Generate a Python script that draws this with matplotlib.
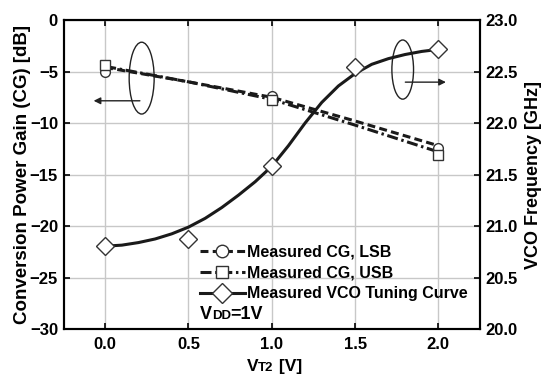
import matplotlib
matplotlib.use("Agg")
import matplotlib.pyplot as plt
from matplotlib.patches import Ellipse
from matplotlib.lines import Line2D
from matplotlib.offsetbox import TextArea, HPacker, AnchoredOffsetbox

plt.rcParams['font.family'] = ['Liberation Sans', 'DejaVu Sans']
plt.rcParams['font.weight'] = 'bold'

# measured points
vt2 = [0.0, 1.0, 2.0]
cg_lsb = [-5.0, -7.35, -12.4]
cg_usb = [-4.4, -7.75, -13.1]

# fitted CG lines
fit_x = [0.0, 0.5, 1.0, 1.5, 2.0]
fit_lsb = [-4.6, -6.0, -7.5, -9.8, -12.2]
fit_usb = [-4.5, -6.0, -7.7, -10.2, -12.8]

# VCO tuning
vco_x = [0.0, 0.5, 1.0, 1.5, 2.0]
vco_f = [20.805, 20.87, 21.58, 22.54, 22.716]
curve_x = [0.0, 0.1, 0.2, 0.3, 0.4, 0.5, 0.6, 0.7, 0.8, 0.9, 1.0,
           1.1, 1.2, 1.3, 1.4, 1.5, 1.6, 1.7, 1.8, 1.9, 2.0]
curve_f = [20.805, 20.815, 20.84, 20.875, 20.925, 20.99, 21.075, 21.18, 21.30, 21.43, 21.58,
           21.78, 22.00, 22.20, 22.36, 22.48, 22.57, 22.625, 22.665, 22.695, 22.715]

xticks = [0.0, 0.5, 1.0, 1.5, 2.0]
cg_ticks = [0, -5, -10, -15, -20, -25, -30]
f_ticks = [20.0, 20.5, 21.0, 21.5, 22.0, 22.5, 23.0]

DASH = (0, (2.6, 1.4))
DASHDOT = (0, (3.6, 1.2, 0.8, 1.2))

fig = plt.figure(figsize=(5.43, 3.74), dpi=100)
ax = fig.add_axes([0.117, 0.12, 0.767, 0.8265])
ax2 = ax.twinx()

ax.set_xlim(-0.25, 2.25)
ax.set_ylim(-30, 0)
ax2.set_ylim(20, 23)
ax.set_xticks(xticks)
ax.set_xticklabels(['%.1f' % v for v in xticks])
ax.set_yticks(cg_ticks)
ax2.set_yticks(f_ticks)
ax2.set_yticklabels(['%.1f' % v for v in f_ticks])
ax.grid(True, color='#c8c8c8', lw=1.0)
ax.set_axisbelow(True)

for a in (ax, ax2):
    for s in a.spines.values():
        s.set_linewidth(1.5)
    a.tick_params(direction='in', labelsize=12, width=1.2, length=4)
ax.tick_params(top=True, pad=6)
ax.tick_params(axis='y', pad=4)
ax2.tick_params(axis='y', pad=4)

ax.plot(fit_x, fit_lsb, color='#1a1a1a', lw=2.2, ls=DASH)
ax.plot(fit_x, fit_usb, color='#1a1a1a', lw=2.2, ls=DASHDOT)
ax.plot(vt2, cg_lsb, ls='none', marker='o', ms=7, mfc='white', mec='#333333', mew=1.0)
ax.plot(vt2, cg_usb, ls='none', marker='s', ms=7, mfc='white', mec='#333333', mew=1.0)
ax2.plot(curve_x, curve_f, color='#1a1a1a', lw=2.2)
ax2.plot(vco_x, vco_f, ls='none', marker='D', ms=9, mfc='white', mec='#333333', mew=1.0)

# legend handles
h1 = Line2D([], [], color='#1a1a1a', lw=2.2, ls=DASH, marker='o', ms=9,
            mfc='white', mec='#333333', mew=1.0)
h2 = Line2D([], [], color='#1a1a1a', lw=2.2, ls=DASHDOT, marker='s', ms=8.5,
            mfc='white', mec='#333333', mew=1.0)
h3 = Line2D([], [], color='#1a1a1a', lw=2.2, marker='D', ms=10,
            mfc='white', mec='#333333', mew=1.0)
ax2.legend([h1, h2, h3], ['Measured CG, LSB', 'Measured CG, USB', 'Measured VCO Tuning Curve'],
           loc='upper left', bbox_to_anchor=(0.328, 0.275), frameon=False, fontsize=11.5,
           handlelength=2.8, handletextpad=0.15, labelspacing=0.38, borderpad=0,
           borderaxespad=0, numpoints=1)

# ellipses and arrows
ax.add_patch(Ellipse((0.219, -5.64), 0.15, 6.97, fill=False, ec='#222222', lw=1.0))
ax.annotate('', xy=(-0.086, -7.84), xytext=(0.225, -7.84),
            arrowprops=dict(arrowstyle='-|>', color='#222222', lw=1.0, mutation_scale=10))
ax.add_patch(Ellipse((1.786, -4.81), 0.13, 5.74, fill=False, ec='#222222', lw=1.0))
ax.annotate('', xy=(2.062, -6.03), xytext=(1.785, -6.03),
            arrowprops=dict(arrowstyle='-|>', color='#222222', lw=1.0, mutation_scale=10))


def sub_label(parts):
    boxes = [TextArea(t, textprops=dict(fontsize=s, fontweight='bold')) for t, s in parts]
    return HPacker(children=boxes, align='baseline', pad=0, sep=0)


vdd = AnchoredOffsetbox(loc='lower left', child=sub_label([('V', 13), ('DD', 9.5), ('=1V', 13)]),
                        bbox_to_anchor=(0.327, 0.02), bbox_transform=ax.transAxes,
                        frameon=False, pad=0, borderpad=0)
ax2.add_artist(vdd)

xl = AnchoredOffsetbox(loc='lower center', child=sub_label([('V', 12.5), ('T2', 9.5), (' [V]', 12.5)]),
                       bbox_to_anchor=(0.505, 0.0), bbox_transform=fig.transFigure,
                       frameon=False, pad=0, borderpad=0)
fig.add_artist(xl)

ax.set_ylabel('Conversion Power Gain (CG) [dB]', fontsize=13.5, fontweight='bold', labelpad=-1)
ax2.set_ylabel('VCO Frequency [GHz]', fontsize=13, fontweight='bold', labelpad=5)

fig.savefig('out.png', dpi=100)
